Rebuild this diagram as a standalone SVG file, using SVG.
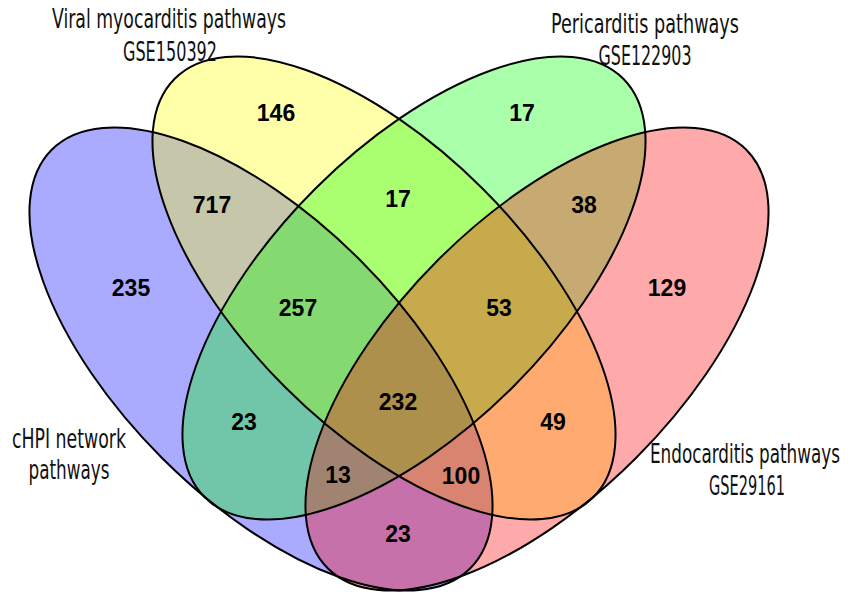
<svg xmlns="http://www.w3.org/2000/svg" width="848" height="592" viewBox="0 0 848 592">
  <style>
    .fill { stroke: none; fill-opacity: 0.333; }
    .outline { fill: none; stroke: #000; stroke-width: 2; }
    .title { font-family: "DejaVu Sans", "Liberation Sans", sans-serif; font-stretch: condensed; font-size: 27px; fill: #111; text-anchor: middle; }
    .count { font-family: "Liberation Sans", Arial, sans-serif; font-weight: bold; font-size: 23px; fill: #000; text-anchor: middle; }
  </style>
  <rect width="848" height="592" fill="#fff"/>
  <defs>
    <ellipse id="e-blue" cx="261" cy="359" rx="296" ry="140" transform="rotate(45 261 359)"/>
    <ellipse id="e-yellow" cx="384" cy="288" rx="296" ry="140" transform="rotate(45 384 288)"/>
    <ellipse id="e-green" cx="414" cy="288" rx="296" ry="140" transform="rotate(-45 414 288)"/>
    <ellipse id="e-red" cx="537" cy="359" rx="296" ry="140" transform="rotate(-45 537 359)"/>
  </defs>

  <g id="set-chpi">
    <use href="#e-blue" class="fill" fill="#0000ff"/>
    <text class="title" x="69" y="448" textLength="114" lengthAdjust="spacingAndGlyphs">cHPI network</text>
    <text class="title" x="69" y="479" textLength="81" lengthAdjust="spacingAndGlyphs">pathways</text>
  </g>
  <g id="set-viral">
    <use href="#e-yellow" class="fill" fill="#ffff00"/>
    <text class="title" x="169" y="28" textLength="234" lengthAdjust="spacingAndGlyphs">Viral myocarditis pathways</text>
    <text class="title" x="170" y="61" textLength="94" lengthAdjust="spacingAndGlyphs">GSE150392</text>
  </g>
  <g id="set-pericarditis">
    <use href="#e-green" class="fill" fill="#00ff00"/>
    <text class="title" x="645" y="33" textLength="188" lengthAdjust="spacingAndGlyphs">Pericarditis pathways</text>
    <text class="title" x="645" y="65" textLength="93" lengthAdjust="spacingAndGlyphs">GSE122903</text>
  </g>
  <g id="set-endocarditis">
    <use href="#e-red" class="fill" fill="#ff0000"/>
    <text class="title" transform="translate(745 463) scale(0.72 1)" x="0" y="0" textLength="264" lengthAdjust="spacingAndGlyphs">Endocarditis pathways</text>
    <text class="title" x="747" y="495" textLength="76" lengthAdjust="spacingAndGlyphs">GSE29161</text>
  </g>

  <g id="outlines">
    <use href="#e-blue" class="outline"/>
    <use href="#e-yellow" class="outline"/>
    <use href="#e-green" class="outline"/>
    <use href="#e-red" class="outline"/>
  </g>

  <g id="counts">
    <text class="count" x="276" y="121">146</text>
    <text class="count" x="522" y="121">17</text>
    <text class="count" x="212" y="213">717</text>
    <text class="count" x="398" y="207">17</text>
    <text class="count" x="584" y="213">38</text>
    <text class="count" x="131" y="296">235</text>
    <text class="count" x="667" y="296">129</text>
    <text class="count" x="298" y="316">257</text>
    <text class="count" x="499" y="316">53</text>
    <text class="count" x="398" y="410">232</text>
    <text class="count" x="244" y="430">23</text>
    <text class="count" x="553" y="430">49</text>
    <text class="count" x="338" y="483">13</text>
    <text class="count" x="461" y="484">100</text>
    <text class="count" x="398" y="542">23</text>
  </g>
</svg>
